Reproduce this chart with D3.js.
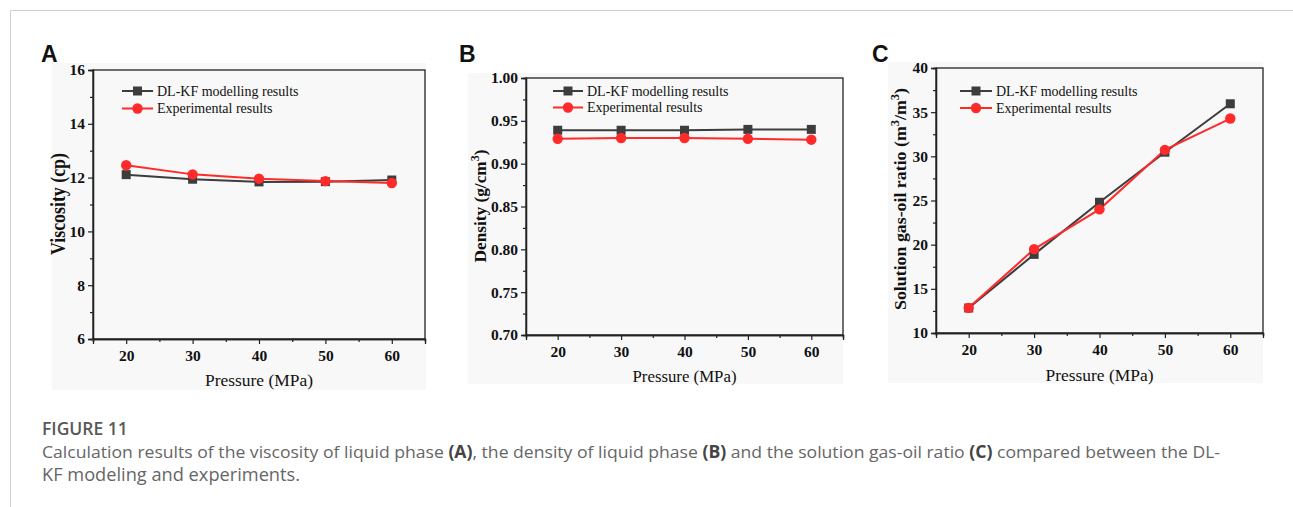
<!DOCTYPE html>
<html>
<head>
<meta charset="utf-8">
<script src="https://cdn.jsdelivr.net/npm/d3@7/dist/d3.min.js"></script>
<style>
  html, body { margin: 0; padding: 0; background: #fff; }
  svg { display: block; }
</style>
</head>
<body>
<svg id="fig" width="1293" height="507"></svg>
<script>
// ---------- data ----------
const pressure = [20, 30, 40, 50, 60];
const pressureTicks = [20, 30, 40, 50, 60];
const seriesNames = ["DL-KF modelling results", "Experimental results"];

const viscosityModel = [12.11, 11.94, 11.84, 11.85, 11.91];
const viscosityExp   = [12.46, 12.12, 11.96, 11.87, 11.80];
const viscosityTicks = [6, 8, 10, 12, 14, 16];

const densityModel = [0.939, 0.939, 0.939, 0.940, 0.940];
const densityExp   = [0.929, 0.930, 0.930, 0.929, 0.928];
const densityTicks = [0.70, 0.75, 0.80, 0.85, 0.90, 0.95, 1.00];

const gorModel = [12.83, 18.90, 24.80, 30.47, 35.95];
const gorExp   = [12.85, 19.50, 24.00, 30.73, 34.28];
const gorTicks = [10, 15, 20, 25, 30, 35, 40];

const captionTitle = "FIGURE 11";
const captionLine1 = ["Calculation results of the viscosity of liquid phase ", "(A)", ", the density of liquid phase ", "(B)", " and the solution gas-oil ratio ", "(C)", " compared between the DL-"];
const captionLine2 = "KF modeling and experiments.";

// ---------- drawing ----------
const svg = d3.select("#fig");
const serif = "'Liberation Serif', 'Times New Roman', serif";
const BLACK = "#3d3d3d", RED = "#ff2a2a";

// card border
svg.append("line").attr("x1", 10.5).attr("y1", 10.5).attr("x2", 1293).attr("y2", 10.5).attr("stroke", "#d0d0d0");
svg.append("line").attr("x1", 10.5).attr("y1", 10.5).attr("x2", 10.5).attr("y2", 507).attr("stroke", "#d0d0d0");

function panel(cfg) {
  const g = svg.append("g");
  g.append("rect").attr("x", cfg.bg[0]).attr("y", cfg.bg[1]).attr("width", cfg.bg[2]).attr("height", cfg.bg[3]).attr("fill", "#f8f8f8");
  const x = d3.scaleLinear().domain([15, 65]).range([cfg.l, cfg.r]);
  const y = d3.scaleLinear().domain(cfg.yDomain).range([cfg.b, cfg.t]);

  // letter
  g.append("text").attr("x", cfg.letterX).attr("y", 62).text(cfg.letter)
    .attr("font-family", "'Liberation Sans', Arial, sans-serif").attr("font-weight", "bold").attr("font-size", 23).attr("fill", "#111");

  // frame
  g.append("rect").attr("x", cfg.l).attr("y", cfg.t).attr("width", cfg.r - cfg.l).attr("height", cfg.b - cfg.t)
    .attr("fill", "none").attr("stroke", "#222").attr("stroke-width", 1.3);

  // y axis
  const yMinor = [];
  for (let i = 0; i < cfg.yTicks.length - 1; i++) yMinor.push((cfg.yTicks[i] + cfg.yTicks[i + 1]) / 2);
  g.append("g").attr("transform", `translate(${cfg.l},0)`)
    .call(d3.axisLeft(y).tickValues(cfg.yTicks).tickSize(5).tickPadding(3).tickFormat(cfg.yFmt));
  g.append("g").attr("transform", `translate(${cfg.l},0)`)
    .call(d3.axisLeft(y).tickValues(yMinor).tickSize(3).tickFormat(""));
  // x axis
  const xMinor = [15, 25, 35, 45, 55, 65];
  g.append("g").attr("transform", `translate(0,${cfg.b})`)
    .call(d3.axisBottom(x).tickValues(pressureTicks).tickSize(5).tickPadding(6).tickFormat(d3.format("d")));
  g.append("g").attr("transform", `translate(0,${cfg.b})`)
    .call(d3.axisBottom(x).tickValues(xMinor).tickSize(3).tickFormat(""));
  g.selectAll(".domain").attr("stroke", "#222").attr("stroke-width", 1.3);
  g.selectAll(".tick line").attr("stroke", "#222").attr("stroke-width", 1.2);
  g.selectAll(".tick text").attr("font-family", serif).attr("font-weight", "bold").attr("font-size", 15.5).attr("fill", "#111");

  // axis titles
  g.append("text").attr("x", (cfg.l + cfg.r) / 2).attr("y", cfg.xLabelY).attr("text-anchor", "middle")
    .attr("font-family", serif).attr("font-size", 17.5).attr("fill", "#111")
    .attr("textLength", cfg.xLabelLen).attr("lengthAdjust", "spacingAndGlyphs").text("Pressure (MPa)");
  const yl = g.append("text").attr("transform", `translate(${cfg.yLabelX},${cfg.yLabelY}) rotate(-90)`)
    .attr("text-anchor", "middle").attr("font-family", serif).attr("font-weight", "bold").attr("font-size", cfg.yLabelSize).attr("fill", "#111")
    .attr("textLength", cfg.yLabelLen).attr("lengthAdjust", "spacingAndGlyphs");
  cfg.yLabel.forEach(p => {
    const ts = yl.append("tspan").text(p.t);
    if (p.sup) ts.attr("baseline-shift", "super").attr("font-size", cfg.yLabelSize * 0.7);
  });

  // series
  const line = d3.line().x((d, i) => x(pressure[i])).y(d => y(d));
  const series = [{ v: cfg.model, c: BLACK, m: "sq" }, { v: cfg.exp, c: RED, m: "ci" }];
  series.forEach(s => {
    g.append("path").datum(s.v).attr("d", line).attr("fill", "none").attr("stroke", s.c).attr("stroke-width", 2);
  });
  series.forEach(s => {
    if (s.m === "sq") {
      g.selectAll(null).data(s.v).enter().append("rect")
        .attr("x", (d, i) => x(pressure[i]) - 4.5).attr("y", d => y(d) - 4.5).attr("width", 9).attr("height", 9).attr("fill", s.c);
    } else {
      g.selectAll(null).data(s.v).enter().append("circle")
        .attr("cx", (d, i) => x(pressure[i])).attr("cy", d => y(d)).attr("r", 5.2).attr("fill", s.c);
    }
  });

  // legend
  series.forEach((s, k) => {
    const ly = cfg.legY[k];
    g.append("line").attr("x1", cfg.legX[0]).attr("x2", cfg.legX[1]).attr("y1", ly).attr("y2", ly).attr("stroke", s.c).attr("stroke-width", 2);
    const mx = (cfg.legX[0] + cfg.legX[1]) / 2;
    if (s.m === "sq") g.append("rect").attr("x", mx - 4.5).attr("y", ly - 4.5).attr("width", 9).attr("height", 9).attr("fill", s.c);
    else g.append("circle").attr("cx", mx).attr("cy", ly).attr("r", 5.2).attr("fill", s.c);
    g.append("text").attr("x", cfg.legX[1] + 4).attr("y", ly + 4.8).attr("font-family", serif).attr("font-size", 14).attr("fill", "#111").text(seriesNames[k]);
  });
}

panel({
  letter: "A", letterX: 41, bg: [52, 63, 374, 327], l: 93, r: 425, t: 70, b: 339,
  yDomain: [6, 16], yTicks: viscosityTicks, yFmt: d3.format("d"),
  model: viscosityModel, exp: viscosityExp,
  legX: [122, 153], legY: [91, 108.5], xLabelY: 386, xLabelLen: 108,
  yLabelX: 65, yLabelY: 204, yLabelSize: 20, yLabelLen: 102,
  yLabel: [{ t: "Viscosity (cp)" }]
});
panel({
  letter: "B", letterX: 459, bg: [468, 73, 375, 311], l: 526, r: 843, t: 78, b: 335,
  yDomain: [0.70, 1.00], yTicks: densityTicks, yFmt: d3.format(".2f"),
  model: densityModel, exp: densityExp,
  legX: [553, 583], legY: [91, 107.5], xLabelY: 382, xLabelLen: 104,
  yLabelX: 486, yLabelY: 206, yLabelSize: 17, yLabelLen: 113,
  yLabel: [{ t: "Density (g/cm" }, { t: "3", sup: true }, { t: ")" }]
});
panel({
  letter: "C", letterX: 872, bg: [888, 62, 375, 321], l: 936, r: 1263, t: 68, b: 333,
  yDomain: [10, 40], yTicks: gorTicks, yFmt: d3.format("d"),
  model: gorModel, exp: gorExp,
  legX: [960, 992], legY: [91, 108], xLabelY: 381, xLabelLen: 108,
  yLabelX: 906, yLabelY: 199, yLabelSize: 17, yLabelLen: 222,
  yLabel: [{ t: "Solution gas-oil ratio (m" }, { t: "3", sup: true }, { t: "/m" }, { t: "3", sup: true }, { t: ")" }]
});

// caption
const capFont = "'Open Sans', 'Noto Sans', sans-serif";
svg.append("text").attr("x", 42).attr("y", 435).attr("font-family", capFont).attr("font-size", 17.5)
  .attr("font-weight", 600).attr("fill", "#595959").text(captionTitle);
const c1 = svg.append("text").attr("x", 42).attr("y", 458).attr("font-family", capFont).attr("font-size", 17)
  .attr("fill", "#666").attr("textLength", 1178).attr("lengthAdjust", "spacingAndGlyphs");
captionLine1.forEach((t, i) => {
  c1.append("tspan").text(t).attr("font-weight", i % 2 === 1 ? 700 : 400).attr("fill", i % 2 === 1 ? "#444" : "#666");
});
svg.append("text").attr("x", 42).attr("y", 481).attr("font-family", capFont).attr("font-size", 17.5).attr("fill", "#666")
  .attr("textLength", 258).attr("lengthAdjust", "spacingAndGlyphs").text(captionLine2);
</script>
</body>
</html>
